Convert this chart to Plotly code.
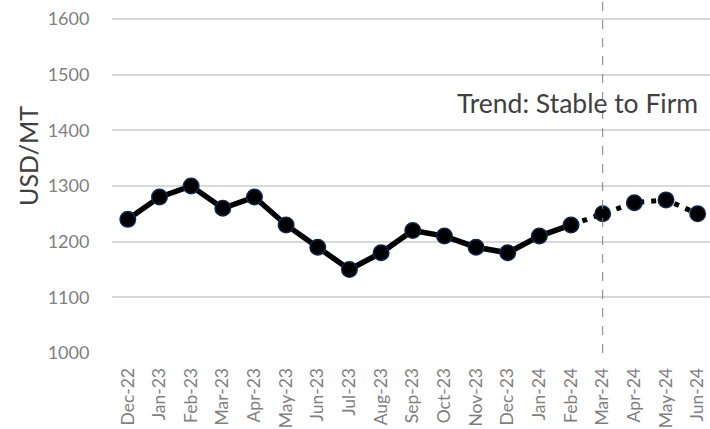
import plotly.graph_objects as go

months = ["Dec-22","Jan-23","Feb-23","Mar-23","Apr-23","May-23","Jun-23","Jul-23","Aug-23",
          "Sep-23","Oct-23","Nov-23","Dec-23","Jan-24","Feb-24","Mar-24","Apr-24","May-24","Jun-24"]
prices = [1240,1280,1300,1260,1280,1230,1190,1150,1180,1220,1210,1190,1180,1210,1230,1250,1270,1275,1250]
actual_end = 14  # Feb-24 index (last actual)
forecast_start_label = "Mar-24"
annotation_text = "Trend: Stable to Firm"
y_title = "USD/MT"

x_idx = list(range(len(months)))

fig = go.Figure()
fig.add_trace(go.Scatter(
    x=x_idx[actual_end:], y=prices[actual_end:], mode="lines",
    line=dict(color="black", width=5, dash="5px,7px"), showlegend=False, hoverinfo="skip"))
fig.add_trace(go.Scatter(
    x=x_idx[:actual_end+1], y=prices[:actual_end+1], mode="lines",
    line=dict(color="black", width=5.5), showlegend=False))
fig.add_trace(go.Scatter(
    x=x_idx, y=prices, mode="markers",
    marker=dict(color="black", size=15.5, line=dict(color="#10264f", width=1.5)),
    showlegend=False))

fig.add_shape(type="line", xref="x", yref="paper",
              x0=months.index(forecast_start_label), x1=months.index(forecast_start_label),
              y0=0, y1=1, line=dict(color="#7f7f7f", width=1, dash="dash"))

fig.add_annotation(text=annotation_text, xref="paper", yref="paper", x=(700-112)/598,
                   y=(353-103)/353, xanchor="right", yanchor="middle", showarrow=False,
                   font=dict(family="Lato", size=26.5, color="#404040"))

fig.add_annotation(text=y_title, xref="paper", yref="paper", x=(28-112)/598,
                   y=(353-156)/353, xanchor="center", yanchor="middle", textangle=-90,
                   showarrow=False, font=dict(family="Lato", size=25, color="#404040"))

fig.update_layout(
    width=710, height=429,
    margin=dict(l=112, r=0, t=0, b=76, autoexpand=False),
    plot_bgcolor="white", paper_bgcolor="white",
    font=dict(family="Lato", color="#7f7f7f"),
    xaxis=dict(tickmode="array", tickvals=x_idx, ticktext=months, tickangle=-90,
               range=[-0.5, 18.39], showgrid=False, zeroline=False, showline=False,
               ticks="outside", ticklen=7, tickcolor="rgba(0,0,0,0)",
               tickfont=dict(size=17.5, color="#7f7f7f")),
    yaxis=dict(range=[1000, 1634], tick0=1000, dtick=100, showgrid=True,
               gridcolor="#d9d9d9", gridwidth=2, zeroline=False, showline=False,
               ticks="outside", ticklen=18, tickcolor="rgba(0,0,0,0)",
               tickfont=dict(size=18, color="#7f7f7f")),
)

fig.write_html("out.html", config={"displayModeBar": False},
               post_script="document.body.style.margin='0';")
